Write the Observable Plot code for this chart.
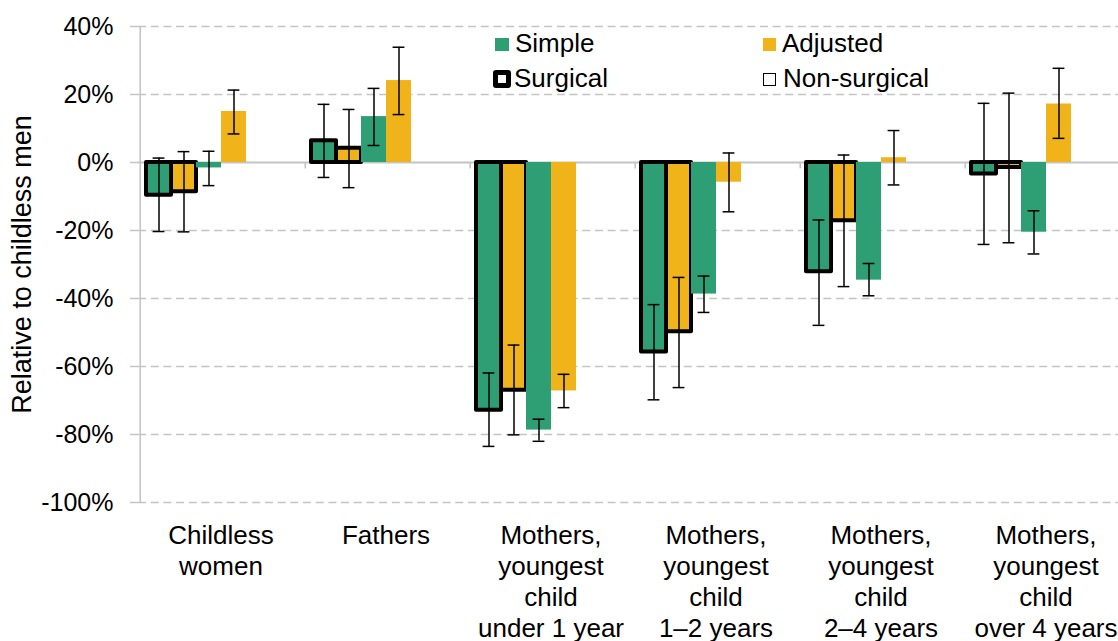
<!DOCTYPE html>
<html>
<head>
<meta charset="utf-8">
<script src="https://cdn.jsdelivr.net/npm/d3@7"></script>
<script src="https://cdn.jsdelivr.net/npm/@observablehq/plot@0.6"></script>
<style>
  html, body { margin: 0; padding: 0; background: #fff; overflow: hidden; }
  #wrap { position: relative; width: 1118px; height: 641px; overflow: hidden; font-family: "Liberation Sans", Arial, sans-serif; }
  #wrap svg { max-width: none !important; width: 1128px; height: 641px; display: block; }
  .lg { position: absolute; font-size: 26px; line-height: 26px; color: #000; white-space: nowrap; }
  .sw { position: absolute; box-sizing: border-box; }
</style>
</head>
<body>
<div id="wrap"></div>
<script>
// ---- data ----
const groups = [
  "Childless women",
  "Fathers",
  "Mothers, youngest child under 1 year",
  "Mothers, youngest child 1–2 years",
  "Mothers, youngest child 2–4 years",
  "Mothers, youngest child over 4 years"
];
const groupLabels = [
  "Childless\nwomen",
  "Fathers",
  "Mothers,\nyoungest\nchild\nunder 1 year",
  "Mothers,\nyoungest\nchild\n1–2 years",
  "Mothers,\nyoungest\nchild\n2–4 years",
  "Mothers,\nyoungest\nchild\nover 4 years"
];
const surgicalSimple      = [-9.6, 6.4, -72.9, -55.7, -32.1, -3.4];
const surgicalSimpleLo    = [-20.3, -4.4, -83.5, -69.8, -47.9, -24.1];
const surgicalSimpleHi    = [1.3, 17.1, -61.9, -41.8, -16.9, 17.4];
const surgicalAdjusted    = [-8.6, 4.2, -67.0, -49.8, -17.1, -1.5];
const surgicalAdjustedLo  = [-20.4, -7.4, -80.1, -66.2, -36.5, -23.6];
const surgicalAdjustedHi  = [3.2, 15.6, -53.7, -33.8, 2.2, 20.4];
const nonSurgicalSimple     = [-1.6, 13.5, -78.7, -38.7, -34.6, -20.5];
const nonSurgicalSimpleLo   = [-6.8, 5.0, -82.0, -44.1, -39.2, -26.9];
const nonSurgicalSimpleHi   = [3.3, 21.8, -75.5, -33.4, -29.7, -14.2];
const nonSurgicalAdjusted   = [15.0, 24.1, -67.2, -5.8, 1.4, 17.2];
const nonSurgicalAdjustedLo = [8.4, 14.1, -72.1, -14.5, -6.6, 7.1];
const nonSurgicalAdjustedHi = [21.3, 33.9, -62.3, 2.8, 9.4, 27.7];
const yTicks = [-100, -80, -60, -40, -20, 0, 20, 40];
const seriesKinds = ["Simple", "Adjusted"];
const seriesColors = ["#2e9e74", "#f0b41a"];

// ---- table ----
const slots = ["SS", "SA", "NS", "NA", "E1", "E2"];
const rows = [];
groups.forEach((g, i) => {
  rows.push({group: g, slot: "SS", kind: "Simple", surgical: true, v: surgicalSimple[i], lo: surgicalSimpleLo[i], hi: surgicalSimpleHi[i]});
  rows.push({group: g, slot: "SA", kind: "Adjusted", surgical: true, v: surgicalAdjusted[i], lo: surgicalAdjustedLo[i], hi: surgicalAdjustedHi[i]});
  rows.push({group: g, slot: "NS", kind: "Simple", surgical: false, v: nonSurgicalSimple[i], lo: nonSurgicalSimpleLo[i], hi: nonSurgicalSimpleHi[i]});
  rows.push({group: g, slot: "NA", kind: "Adjusted", surgical: false, v: nonSurgicalAdjusted[i], lo: nonSurgicalAdjustedLo[i], hi: nonSurgicalAdjustedHi[i]});
});

const W = 1128, H = 641, ML = 138, MR = 0, MT = 26, MB = 139;
const padOuter = 0.235;
const facetW = (W - ML - MR) / groups.length;
const step = facetW / (slots.length + 2 * padOuter);
const edgeOffset = padOuter * step + step / 2; // from first slot centre to facet's left edge
const grid = "#c4c4c4";
const font = "Liberation Sans, Arial, sans-serif";

const chart = Plot.plot({
  width: W, height: H,
  marginLeft: ML, marginRight: MR, marginTop: MT, marginBottom: MB,
  style: {fontFamily: font, background: "#fff"},
  fx: {domain: groups, padding: 0, axis: null, label: null},
  x: {domain: slots, paddingInner: 0, paddingOuter: padOuter, axis: null},
  y: {domain: [-100, 40], axis: null},
  color: {domain: seriesKinds, range: seriesColors},
  marks: [
    Plot.ruleY(yTicks.filter(t => t !== 0), {stroke: grid, strokeWidth: 1.6, strokeDasharray: `8,${(facetW / 13 - 8).toFixed(4)}`}),
    Plot.ruleY([0], {stroke: grid, strokeWidth: 2}),
    Plot.axisY({ticks: yTicks, tickFormat: d => d + "%", tickSize: 8, tickPadding: 17, fontSize: 25, stroke: grid, strokeWidth: 1.5, fill: "#000", label: null}),
    Plot.ruleX([groups[0]], {fx: d => d, x: () => "SS", dx: -edgeOffset, y1: -100, y2: 40, stroke: grid, strokeWidth: 1.6}),
    Plot.ruleX(groups.slice(1), {fx: d => d, x: () => "SS", dx: -edgeOffset, y1: 0, y2: -1.9, stroke: grid, strokeWidth: 1.6}),
    Plot.barY(rows.filter(r => r.surgical), {fx: "group", x: "slot", y1: 0, y2: "v", fill: "kind", stroke: "#000", strokeWidth: 4, strokeLinejoin: "round"}),
    Plot.barY(rows.filter(r => !r.surgical), {fx: "group", x: "slot", y1: 0, y2: "v", fill: "kind"}),
    Plot.ruleX(rows, {fx: "group", x: "slot", y1: "lo", y2: "hi", stroke: "#000", strokeWidth: 1.5}),
    Plot.tickY(rows, {fx: "group", x: "slot", y: "lo", insetLeft: 6.6, insetRight: 6.6, stroke: "#000", strokeWidth: 1.5}),
    Plot.tickY(rows, {fx: "group", x: "slot", y: "hi", insetLeft: 6.6, insetRight: 6.6, stroke: "#000", strokeWidth: 1.5}),
    Plot.text(groups, {fx: d => d, text: d => groupLabels[groups.indexOf(d)], frameAnchor: "bottom", lineAnchor: "top", dy: 20, fontSize: 26, lineHeight: 1.185, fill: "#000"}),
    Plot.text([groups[0]], {fx: d => d, text: () => "Relative to childless men", frameAnchor: "left", textAnchor: "middle", dx: -116, rotate: -90, fontSize: 27, fill: "#000"})
  ]
});

const wrap = document.getElementById("wrap");
wrap.appendChild(chart);

// ---- legend (inside plot area) ----
const legendItems = [
  {label: "Simple", sw: {left: 495, top: 38, w: 14, h: 13, bg: seriesColors[0], border: "none", radius: 0}, tx: 515, ty: 30},
  {label: "Adjusted", sw: {left: 763, top: 38, w: 13, h: 13, bg: seriesColors[1], border: "none", radius: 0}, tx: 782, ty: 30},
  {label: "Surgical", sw: {left: 493, top: 70, w: 18, h: 18, bg: "#fff", border: "5px solid #000", radius: "3px"}, tx: 514, ty: 65},
  {label: "Non-surgical", sw: {left: 763, top: 73, w: 13, h: 13, bg: "#fff", border: "1px solid #000", radius: 0}, tx: 783, ty: 65}
];
legendItems.forEach(it => {
  const s = document.createElement("div");
  s.className = "sw";
  Object.assign(s.style, {left: it.sw.left + "px", top: it.sw.top + "px", width: it.sw.w + "px", height: it.sw.h + "px", background: it.sw.bg, border: it.sw.border, borderRadius: it.sw.radius});
  wrap.appendChild(s);
  const t = document.createElement("div");
  t.className = "lg";
  t.textContent = it.label;
  Object.assign(t.style, {left: it.tx + "px", top: it.ty + "px"});
  wrap.appendChild(t);
});
</script>
</body>
</html>
